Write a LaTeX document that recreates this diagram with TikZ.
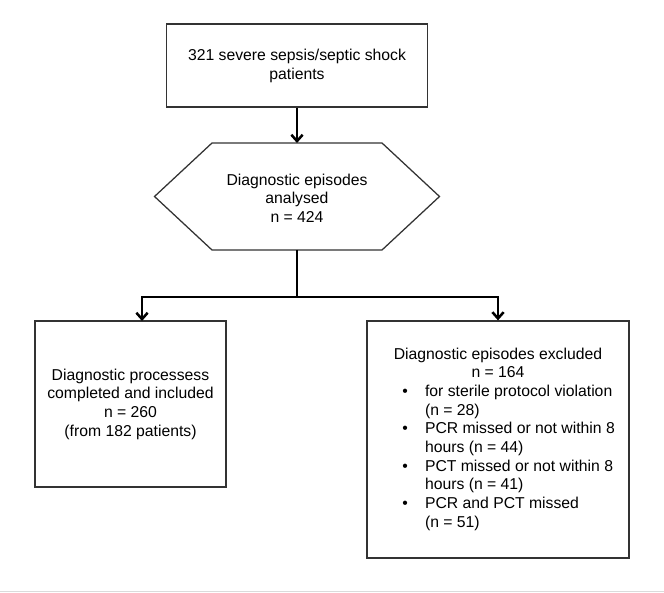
\documentclass[tikz,border=0pt]{standalone}
\usepackage{fontspec}
\setmainfont{Liberation Sans}
\usetikzlibrary{calc}
\usetikzlibrary{arrows.meta}
\usetikzlibrary{shadows}
\pgfmathsetmacro{\LineW}{1.8}
\definecolor{boxColor}{gray}{0.2}
\definecolor{shadowColor}{gray}{0.7}
\definecolor{ruleColor}{gray}{0.86}

\begin{document}
\begin{tikzpicture}[
    box/.style={rectangle, draw=boxColor, line width=0.9pt, fill=white, align=center, inner sep=0pt,
        drop shadow={shadow xshift=0.7pt, shadow yshift=-0.9pt, fill=shadowColor, opacity=0.6}},
    flow/.style={line width=\LineW pt, -{Straight Barb[length=4.5pt,width=8pt]}},
    font=\fontsize{11.2}{13.3}\selectfont
]
    \useasboundingbox (0,0) rectangle (16.6,14.8);
    \draw[ruleColor, line width=0.8pt] (0,0.02) -- (16.6,0.02);

    \node[box, minimum width=6.525cm, minimum height=2.075cm] (patients) at (7.425,13.16) {321 severe sepsis/septic shock\\patients};

    % hexagon
    \coordinate (hexT) at (7.425,11.225);
    \coordinate (hexB) at (7.425,8.55);
    \draw[draw=boxColor, line width=0.9pt, fill=white] (3.8625,9.8875) -- (5.3,11.225) -- (9.55,11.225)
        -- (10.9875,9.8875) -- (9.55,8.55) -- (5.3,8.55) -- cycle;
    \node[align=center] (episodes) at (7.425,9.85) {Diagnostic episodes\\analysed\\n = 424};

    \node[box, minimum width=4.775cm, minimum height=4.15cm] (included) at (3.2625,4.7)
        {Diagnostic processess\\completed and included\\n = 260\\(from 182 patients)};

    \node[box, minimum width=6.55cm, minimum height=5.925cm] (excluded) at (12.45,3.8125) {%
        \begin{tabular}{@{\hspace{0.53cm}}c@{\hspace{0.43cm}}l@{}}
        \multicolumn{2}{@{}c@{}}{Diagnostic episodes excluded}\\
        \multicolumn{2}{@{}c@{}}{n = 164}\\
        \textbullet & for sterile protocol violation\\
                    & (n = 28)\\
        \textbullet & PCR missed or not within 8\\
                    & hours (n = 44)\\
        \textbullet & PCT missed or not within 8\\
                    & hours (n = 41)\\
        \textbullet & PCR and PCT missed\\
                    & (n = 51)
        \end{tabular}};

    \coordinate (split) at (7.425,7.375);
    \coordinate (inTop) at (3.55,6.775);

    \draw[flow] (patients.south) -- (hexT);
    \draw[flow] (hexB) -- (split) -| (inTop);
    \draw[flow] (split) -| (excluded.north);
\end{tikzpicture}
\end{document}
